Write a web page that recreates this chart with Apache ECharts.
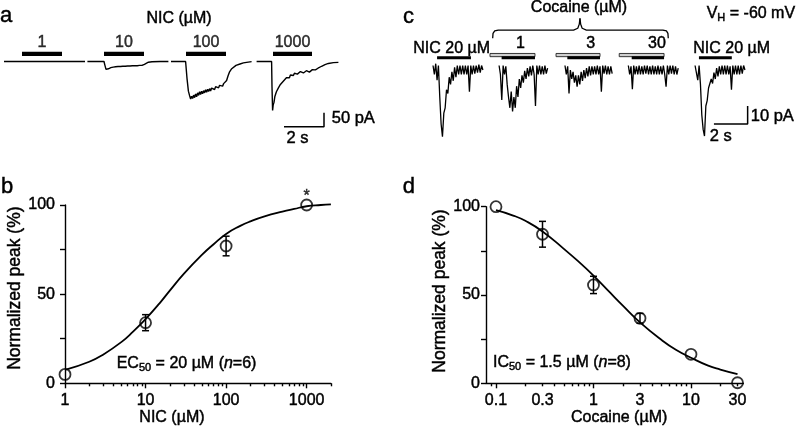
<!DOCTYPE html>
<html><head><meta charset="utf-8">
<script src="https://cdn.jsdelivr.net/npm/echarts@6/dist/echarts.min.js"></script>
<style>html,body{margin:0;padding:0;background:#fff}#chart{width:797px;height:435px}</style>
</head><body><div id="chart"></div>
<script>
// ================= DATA =================
// Panel a: NIC-evoked currents  ([time s, current pA])
const aConcLabels = ['1', '10', '100', '1000'];
const aBars = [[1.1, 3.1], [5.2, 7.2], [9.3, 11.3], [13.65, 15.6]];   // application bars (s)
const aBarLevel = 27;                                                 // pA level of bars
const aTrace1 = [[0.2,0],[1.5,0.3],[3.05,0],[3.1,-2],[3.15,0],[4.25,0]];
const aTrace2 = [[4.37,0],[5.2,0],[5.24,-12],[5.3,-28],[5.36,-32],[5.42,-26],[5.48,-28],[5.54,-22],[5.6,-25],[5.66,-20],[5.72,-24],[5.78,-19],[5.84,-23],[5.9,-18],[5.96,-22],[6.02,-18],[6.08,-21],[6.14,-17],[6.2,-21],[6.26,-17],[6.32,-20],[6.38,-16],[6.44,-20],[6.5,-16],[6.56,-19],[6.62,-15],[6.68,-19],[6.74,-15],[6.8,-18],[6.86,-15],[6.92,-18],[6.98,-14],[7.04,-17],[7.1,-14],[7.16,-16],[7.22,-10],[7.3,-5],[7.42,-2.5],[7.6,-1],[8.0,0],[8.42,0]];
const aTrace3 = [[8.55,0],[9.28,0],[9.35,-60],[9.42,-106],[9.48,-122],[9.53,-134],[9.58,-124],[9.63,-132],[9.68,-120],[9.73,-129],[9.78,-116],[9.83,-126],[9.88,-112],[9.93,-121],[9.98,-108],[10.03,-118],[10.08,-106],[10.13,-115],[10.18,-104],[10.23,-112],[10.28,-101],[10.33,-110],[10.38,-99],[10.43,-107],[10.48,-97],[10.53,-105],[10.58,-95],[10.63,-102],[10.68,-92],[10.73,-100],[10.78,-90],[10.83,-97],[10.88,-87],[10.93,-94],[10.98,-85],[11.03,-91],[11.08,-82],[11.13,-88],[11.18,-79],[11.23,-84],[11.28,-74],[11.33,-68],[11.4,-52],[11.47,-38],[11.57,-27],[11.67,-20],[11.8,-14],[12.0,-9],[12.17,-5],[12.33,-3],[12.58,-0.5]];
const aTrace4 = [[12.83,0],[13.58,0],[13.6,-90],[13.63,-175],[13.66,-155],[13.7,-146],[13.74,-126],[13.78,-124],[13.82,-108],[13.87,-108],[13.92,-94],[13.97,-96],[14.02,-82],[14.07,-86],[14.12,-74],[14.17,-78],[14.22,-66],[14.27,-70],[14.32,-58],[14.37,-64],[14.42,-54],[14.47,-58],[14.52,-48],[14.57,-53],[14.62,-45],[14.67,-50],[14.72,-42],[14.77,-47],[14.82,-40],[14.87,-45],[14.92,-38],[14.97,-43],[15.02,-36],[15.07,-42],[15.12,-35],[15.17,-41],[15.22,-34],[15.27,-40],[15.32,-33],[15.37,-39],[15.42,-32],[15.47,-38],[15.52,-31],[15.57,-36],[15.62,-29],[15.67,-33],[15.72,-27],[15.77,-30],[15.83,-25],[15.9,-24],[16.0,-20],[16.08,-17],[16.17,-13],[16.25,-11],[16.33,-8],[16.42,-7],[16.5,-5],[16.67,-4],[16.92,-3]];
const aScaleBarT = [14.2, 16.2];     // 2 s
const aScaleBarI = [-233, -183];     // 50 pA

// Panel c: cocaine inhibition traces (sampled every cDt s, pA)
const cDt = 0.08;
const cTraceStarts = [1.96, 5.88, 9.79, 13.55, 17.51];
const cTrace1 = [2.5,-2.5,3.5,-5.6,2.5,-15,-30,-37,-24,-21,-11,-13,-4,-8,-1,-6,1.5,-4,2.5,-2.5,2.5,-2.5,2.5,-2.5,2.5,-2.5,2.5,-12,2.5,-2.5,2.5,-2,2.5,-1.5,3,-1.5,2.5,0];
const cTrace2 = [2.5,-2.5,-16.7,2.5,-2.5,2,-8,-15,-21,-12,-23,-15,-21,-9,-15,-5,-10,-3,-7,-0.5,-5,1,-3.5,2,-3,2.5,-2.5,-20,2.5,-2.5,2.5,-2.5,2,-2.5,2.5,-2,1];
const cTrace3 = [2.5,-2.5,2,-13,0,-5,-1,-7,-3,-9.3,-3,-8,-1,-6,0,-4.5,1,-3.5,2,-3,2,-2.5,2,-2.5,2.5,-2.5,2,-12,2.5,-2,2.5,-2.5,2,-2.5,2,-2];
const cTrace4 = [2.5,-2.5,2,-10.7,2.5,-2.5,2,-2.5,2.5,-2.5,2,-2.5,2.5,-2,2.5,-2.5,2,-2.5,2.5,-2.5,2,-2.5,2.5,-2.5,2,-2.5,2.5,-2.5,-9.3,2.5,-2.5,2.5,-2,2.5,-2.5,2,-2.5,1];
const cTrace5 = [2.5,3.5,-5.6,2.5,-8,-25,-33,-36.7,-20,-17,-10,-10.5,-5,-7.5,-1.5,-5,1,-3.5,2,-2.5,2.5,-2.5,2.5,-2.5,2.5,-2.5,2,-11,2.5,-2.5,2.5,-2.5,2.5,-2.5,2.5,-2,2.5,0];
const cNicBars = [[2.2, 4.21], [17.74, 19.69]];
const cCocBars = [[5.34, 8.01], [9.26, 11.87], [13.01, 15.67]];       // cocaine (grey)
const cCoNicBars = [[6.03, 8.01], [9.93, 11.87], [13.75, 15.67]];     // NIC with cocaine (black)
const cNicLevel = 6.8, cCocLevel = 8.3;
const cCocLabels = ['1', '3', '30'];
const cBraceLeft = [[5.5,17.6],[5.52,20.3],[5.62,21.7],[5.83,22.2],[10.3,22.2],[10.55,23.2],[10.64,25.5],[10.68,28.7]];
const cBraceRight = [[10.68,28.7],[10.72,25.5],[10.81,23.2],[11.06,22.2],[15.6,22.2],[15.81,21.7],[15.9,20.3],[15.92,17.6]];
const cScaleBarT = [18.63, 20.63];   // 2 s
const cScaleBarI = [-30, -20];       // 10 pA

// Panel b: NIC concentration-response
const nicConc = [1, 10, 100, 1000];
const nicPeak = [5, 34, 77, 100];
const nicSem  = [0, 4.5, 5.5, 0];
const nicSig  = ['', '', '', '*'];
const nicFitConc = [1, 2, 3, 5, 7, 10, 15, 20, 30, 50, 70, 100, 150, 200, 300, 500, 700, 1000, 1500, 2000];
const nicFitPeak = [7.5, 12.1, 16.2, 23.1, 29, 36, 45, 52, 61.5, 72, 78, 83.8, 88.3, 90.8, 93.6, 96.3, 97.8, 99.3, 100, 100.4];
const bXMin = 1, bXMax = 2000;
const bMajorTicks = [1, 10, 100, 1000];
const bMinorTicks = [2,3,4,5,6,7,8,9,20,30,40,50,60,70,80,90,200,300,400,500,600,700,800,900,2000];
const bTickLabels = [1, 10, 100, 1000];

// Panel d: cocaine inhibition curve
const cocConc = [0.1, 0.3, 1, 3, 10, 30];
const cocPeak = [100, 84.4, 55.7, 36.8, 16.4, 0.3];
const cocSem  = [0, 7.3, 4.9, 2.8, 0, 0];
const cocFitConc = [0.1, 0.15, 0.2, 0.3, 0.5, 0.7, 1, 1.5, 2, 3, 5, 7, 10, 15, 20, 30];
const cocFitPeak = [98, 95, 92, 86, 76, 69, 61, 51, 44, 34.5, 24.5, 19, 14.5, 10, 7.8, 5.2];
const dXMin = 0.079, dXMax = 34.4;
const dMajorTicks = [0.1, 1, 10];
const dMinorTicks = [0.09,0.2,0.3,0.4,0.5,0.6,0.7,0.8,0.9,2,3,4,5,6,7,8,9,20,30];
const dTickLabels = [0.1, 0.3, 1, 3, 10, 30];

const yTicks = [0, 25, 50, 75, 100];
const yTickLabels = [0, 50, 100];

// ================= BUILD =================
const LOG = Math.log10;
const FONT = "'Liberation Sans', Arial, Helvetica, sans-serif";
const BLACK = '#000';
const fmtLog = v => String(Number(Math.pow(10, v).toPrecision(3)));

function sampled(t0, vals) { return vals.map((v, i) => [t0 + i * cDt, v]); }

function rectBars(h, fill, stroke) {
  return function (params, api) {
    const a = api.coord([api.value(0), api.value(2)]);
    const b = api.coord([api.value(1), api.value(2)]);
    return { type: 'rect', shape: { x: a[0], y: a[1] - h / 2, width: b[0] - a[0], height: h },
      style: { fill: fill, stroke: stroke || null, lineWidth: stroke ? 0.9 : 0 } };
  };
}
function errRender(params, api) {
  const x = api.value(0), m = api.value(1), e = api.value(2);
  if (!e) return { type: 'group', children: [] };
  const t = api.coord([x, m + e]), b = api.coord([x, m - e]);
  const w = 3.5, st = { stroke: BLACK, lineWidth: 1.5 };
  return { type: 'group', children: [
    { type: 'line', shape: { x1: t[0], y1: t[1], x2: b[0], y2: b[1] }, style: st },
    { type: 'line', shape: { x1: t[0] - w, y1: t[1], x2: t[0] + w, y2: t[1] }, style: st },
    { type: 'line', shape: { x1: b[0] - w, y1: b[1], x2: b[0] + w, y2: b[1] }, style: st }
  ]};
}
function trace(xi, data, w) {
  return { type: 'line', xAxisIndex: xi, yAxisIndex: xi, data: data, symbol: 'none', showSymbol: false,
    clip: false, silent: true, lineStyle: { color: BLACK, width: w || 1.2 } };
}
function barSeries(xi, bars, level, h, fill, stroke) {
  return { type: 'custom', xAxisIndex: xi, yAxisIndex: xi, clip: false, silent: true,
    renderItem: rectBars(h, fill, stroke), encode: { x: [0, 1], y: 2 },
    data: bars.map(b => [b[0], b[1], level]) };
}
const txtStyle = { color: BLACK, fontSize: 16, fontFamily: FONT, textBorderColor: BLACK, textBorderWidth: 0.45 };
const axLine = { color: BLACK, width: 1.4 };

function logXAxes(grid, xmin, xmax, major, minor, labels, name, gap, pad) {
  return [{
    gridIndex: grid, type: 'value', min: LOG(xmin), max: LOG(xmax), position: 'bottom',
    axisLine: { show: true, onZero: false, lineStyle: axLine },
    axisTick: { show: true, customValues: major.map(LOG), length: 5, lineStyle: axLine },
    axisLabel: { customValues: labels.map(LOG), formatter: fmtLog, margin: 9, ...txtStyle },
    splitLine: { show: false },
    name: name, nameLocation: 'middle', nameGap: gap,
    nameTextStyle: { ...txtStyle, padding: pad }
  }, {
    gridIndex: grid, type: 'value', min: LOG(xmin), max: LOG(xmax), position: 'bottom',
    axisLine: { show: false }, axisLabel: { show: false }, splitLine: { show: false },
    axisTick: { show: true, customValues: minor.map(LOG), length: 3, lineStyle: axLine }
  }];
}
function pctYAxis(grid, margin, gap, pad) {
  return {
    gridIndex: grid, type: 'value', min: 0, max: 100, interval: 25,
    axisLine: { show: true, onZero: false, lineStyle: axLine },
    axisTick: { show: true, customValues: yTicks, length: 5, lineStyle: axLine },
    axisLabel: { customValues: yTickLabels, margin: margin, ...txtStyle },
    splitLine: { show: false },
    name: 'Normalized peak (%)', nameLocation: 'middle', nameGap: gap,
    nameTextStyle: { ...txtStyle, fontSize: 17.5, padding: pad }
  };
}

const series = [];
// --- panel a
[aTrace1, aTrace2, aTrace3, aTrace4].forEach(t => series.push(trace(0, t, 1.4)));
series.push(barSeries(0, aBars, aBarLevel, 4.3, BLACK));
series.push({ type: 'scatter', xAxisIndex: 0, yAxisIndex: 0, symbolSize: 0, clip: false, silent: true,
  data: aBars.map((b, i) => [(b[0] + b[1]) / 2, aBarLevel, aConcLabels[i]]),
  label: { show: true, position: 'top', distance: 3, formatter: p => p.value[2], ...txtStyle } });
series.push(trace(0, [[aScaleBarT[0], aScaleBarI[0]], [aScaleBarT[1], aScaleBarI[0]], [aScaleBarT[1], aScaleBarI[1]]], 1.5));
// --- panel c
[cTrace1, cTrace2, cTrace3, cTrace4, cTrace5].forEach((v, i) => series.push(trace(1, sampled(cTraceStarts[i], v), 1.3)));
series.push(barSeries(1, cNicBars, cNicLevel, 3.2, BLACK));
series.push(barSeries(1, cCocBars, cCocLevel, 3.2, '#cfcfcf', '#222'));
series.push(barSeries(1, cCoNicBars, cNicLevel, 3.2, BLACK));
series.push(trace(1, cBraceLeft, 1.3));
series.push(trace(1, cBraceRight, 1.3));
series.push(trace(1, [[cScaleBarT[0], cScaleBarI[0]], [cScaleBarT[1], cScaleBarI[0]], [cScaleBarT[1], cScaleBarI[1]]], 1.5));
// --- panel b
series.push({ type: 'line', xAxisIndex: 2, yAxisIndex: 2, smooth: true, symbol: 'none', clip: false, silent: true,
  data: nicFitConc.map((c, i) => [LOG(c), nicFitPeak[i]]), lineStyle: { color: BLACK, width: 1.8 } });
series.push({ type: 'custom', xAxisIndex: 2, yAxisIndex: 2, clip: false, silent: true, renderItem: errRender,
  encode: { x: 0, y: 1 }, data: nicConc.map((c, i) => [LOG(c), nicPeak[i], nicSem[i]]) });
series.push({ type: 'scatter', xAxisIndex: 2, yAxisIndex: 2, clip: false, silent: true, symbol: 'circle', symbolSize: 11,
  itemStyle: { color: 'rgba(255,255,255,0)', borderColor: BLACK, borderWidth: 1.8 },
  data: nicConc.map((c, i) => [LOG(c), nicPeak[i], nicSig[i]]),
  label: { show: true, position: 'top', distance: -6, formatter: p => p.value[2], ...txtStyle } });
// --- panel d
series.push({ type: 'line', xAxisIndex: 4, yAxisIndex: 3, smooth: true, symbol: 'none', clip: false, silent: true,
  data: cocFitConc.map((c, i) => [LOG(c), cocFitPeak[i]]), lineStyle: { color: BLACK, width: 1.8 } });
series.push({ type: 'custom', xAxisIndex: 4, yAxisIndex: 3, clip: false, silent: true, renderItem: errRender,
  encode: { x: 0, y: 1 }, data: cocConc.map((c, i) => [LOG(c), cocPeak[i], cocSem[i]]) });
series.push({ type: 'scatter', xAxisIndex: 4, yAxisIndex: 3, clip: false, silent: true, symbol: 'circle', symbolSize: 11,
  itemStyle: { color: 'rgba(255,255,255,0)', borderColor: BLACK, borderWidth: 1.8 },
  data: cocConc.map((c, i) => [LOG(c), cocPeak[i]]) });

function T(x, y, text, size, align, extra) {
  const st = { text: text, font: (size || 16) + 'px ' + FONT, fill: BLACK, stroke: BLACK, lineWidth: 0.45,
    textAlign: align || 'left', align: align || 'left', textVerticalAlign: 'middle', verticalAlign: 'middle' };
  return { type: 'text', x: x, y: y, silent: true, style: Object.assign(st, extra || {}) };
}
const richSub = {
  n: { fontSize: 16, fontFamily: FONT, lineHeight: 18 },
  s: { fontSize: 11, fontFamily: FONT, lineHeight: 10, verticalAlign: 'bottom' },
  i: { fontSize: 16, fontFamily: FONT, fontStyle: 'italic', lineHeight: 18 }
};

const option = {
  animation: false,
  grid: [
    { left: 0, top: 33.5, width: 340, height: 98 },       // a
    { left: 400, top: 16, width: 396, height: 126 },      // c
    { left: 65, top: 205, width: 265.9, height: 178.3 },  // b
    { left: 486, top: 206.7, width: 257.3, height: 176.6 } // d
  ],
  xAxis: [
    { gridIndex: 0, type: 'value', min: 0, max: 17, show: false },
    { gridIndex: 1, type: 'value', min: 0, max: 23.5, show: false },
    ...logXAxes(2, bXMin, bXMax, bMajorTicks, bMinorTicks, bTickLabels, 'NIC (µM)', 26, [0, 52, 0, 0]),
    ...logXAxes(3, dXMin, dXMax, dMajorTicks, dMinorTicks, dTickLabels, 'Cocaine (µM)', 26, [0, 0, 0, 9])
  ],
  yAxis: [
    { gridIndex: 0, type: 'value', min: -250, max: 100, show: false },
    { gridIndex: 1, type: 'value', min: -40, max: 30, show: false },
    pctYAxis(2, 10, 36.5, [0, 0, 0, 12]),
    pctYAxis(3, 6, 31.5, [0, 0, 0, 8])
  ],
  series: series,
  graphic: { elements: [
    T(0, 15.7, 'a', 22), T(1, 187.4, 'b', 22), T(403, 17.4, 'c', 22), T(402.7, 187.4, 'd', 22),
    T(179, 18.5, 'NIC (µM)', 16, 'center'),
    T(331.7, 118, '50 pA', 16.5), T(297.5, 138.5, '2 s', 16.5, 'center'),
    T(579, 7.5, 'Cocaine (µM)', 16, 'center'),
    T(706.7, 14, '', 16, 'left', { text: '{n|V}{s|H}{n| = -60 mV}', rich: richSub }),
    T(413.3, 49, 'NIC 20 µM'), T(693.3, 49, 'NIC 20 µM'),
    T(520.5, 43.3, cCocLabels[0], 16, 'center'), T(590.8, 43.3, cCocLabels[1], 16, 'center'), T(657, 43.3, cCocLabels[2], 16, 'center'),
    T(750.7, 116, '10 pA', 16.5), T(720.8, 136.7, '2 s', 16.5, 'center'),
    T(116.7, 364, '', 16, 'left', { text: '{n|EC}{s|50}{n| = 20 µM (}{i|n}{n|=6)}', rich: richSub }),
    T(493, 363, '', 16, 'left', { text: '{n|IC}{s|50}{n| = 1.5 µM (}{i|n}{n|=8)}', rich: richSub })
  ]}
};
const chart = echarts.init(document.getElementById('chart'), null, { renderer: 'canvas' });
chart.setOption(option);
</script></body></html>
